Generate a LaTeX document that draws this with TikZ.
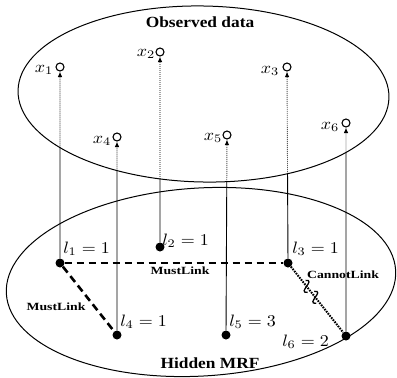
\documentclass[tikz,border=0pt]{standalone}
\usepackage{fontspec}
\setmainfont{Liberation Serif}
\usetikzlibrary{arrows.meta,intersections,calc}
\begin{document}
\begin{tikzpicture}[x=1pt,y=-1pt,
  obs/.style={circle,draw,line width=1.1pt,minimum size=8pt,inner sep=0pt},
  hid/.style={circle,fill,minimum size=9pt,inner sep=0pt},
  mlab/.style={inner sep=0pt,xscale=1.8,yscale=1.65},
  ttl/.style={font=\bfseries\fontsize{15.5}{18}\selectfont,xscale=1.12,inner sep=0pt},
  lnk/.style={font=\bfseries\fontsize{11}{12}\selectfont,xscale=1.25,inner sep=0pt},
  vline/.style={line width=0.9pt},
  dline/.style={line width=0.9pt,dash pattern=on 0.9pt off 1.1pt,-{Latex[length=5.5pt,width=4.5pt]}},
  must/.style={line width=2.6pt,dash pattern=on 7.5pt off 4.5pt},
  cannot/.style={line width=2pt,dash pattern=on 1.6pt off 1.1pt},
  squig/.style={line width=1.3pt}
]
\useasboundingbox (0,0) rectangle (397,378);
% ellipses
\draw[line width=1pt,name path=top,rotate around={-1.1:(203.5,94)}]
  (203.5,94) ellipse [x radius=185.5,y radius=88];
\draw[line width=1pt,rotate around={3.5:(201,282)}]
  (201,282) ellipse [x radius=195,y radius=94];
% titles
\node[ttl] (tobs) at (200,22) {Observed data};
\node[ttl] (thid) at (210,363) {Hidden MRF};
% observed nodes
\node[obs] (x1) at (60,67) {};
\node[obs] (x2) at (160,52) {};
\node[obs] (x3) at (287,67) {};
\node[obs] (x4) at (117,137) {};
\node[obs] (x5) at (227,135) {};
\node[obs] (x6) at (346,123) {};
\node[mlab] (lx1) at (44,70) {$x_1$};
\node[mlab] (lx2) at (146,54) {$x_2$};
\node[mlab] (lx3) at (270,71) {$x_3$};
\node[mlab] (lx4) at (102,141) {$x_4$};
\node[mlab] (lx5) at (213,138) {$x_5$};
\node[mlab] (lx6) at (330,127) {$x_6$};
% hidden nodes
\node[hid] (l1) at (60,263) {};
\node[hid] (l2) at (160,247) {};
\node[hid] (l3) at (288,263) {};
\node[hid] (l4) at (117,335) {};
\node[hid] (l5) at (226,335) {};
\node[hid] (l6) at (346,336) {};
\node[mlab,anchor=west] (ll1) at (63,249) {$l_1=1$};
\node[mlab,anchor=west] (ll2) at (162,241) {$l_2=1$};
\node[mlab,anchor=west] (ll3) at (292,249) {$l_3=1$};
\node[mlab,anchor=west] (ll4) at (120,322) {$l_4=1$};
\node[mlab,anchor=west] (ll5) at (229,322) {$l_5=3$};
\node[mlab,anchor=west] (ll6) at (282,342) {$l_6=2$};
% vertical connectors
\foreach \i in {1,...,6}{
  \path[name path=v\i] (l\i.center) -- (x\i.center);
  \path[name intersections={of=top and v\i,by=c\i}];
  \draw[vline] (l\i) -- (c\i);
  \draw[dline] (c\i) -- (x\i);
}
% links
\draw[must] (l1) -- (l3);
\draw[must] (l1) -- (l4);
\draw[cannot] (l3) -- (l6);
\node[lnk] (m1) at (180,271) {MustLink};
\node[lnk] (m2) at (56,307) {MustLink};
\node[lnk] (cl) at (343,275) {CannotLink};
% squiggles on cannot-link
\coordinate (s1) at ($(l3)!0.32!(l6)$);
\coordinate (s2) at ($(l3)!0.47!(l6)$);
\draw[squig] ($(s1)+(-1,-6)$) .. controls ($(s1)+(10,-7)$) and ($(s1)+(-10,7)$) .. ($(s1)+(1,6)$);
\draw[squig] ($(s2)+(-1,-6)$) .. controls ($(s2)+(10,-7)$) and ($(s2)+(-10,7)$) .. ($(s2)+(1,6)$);
\end{tikzpicture}
\end{document}
